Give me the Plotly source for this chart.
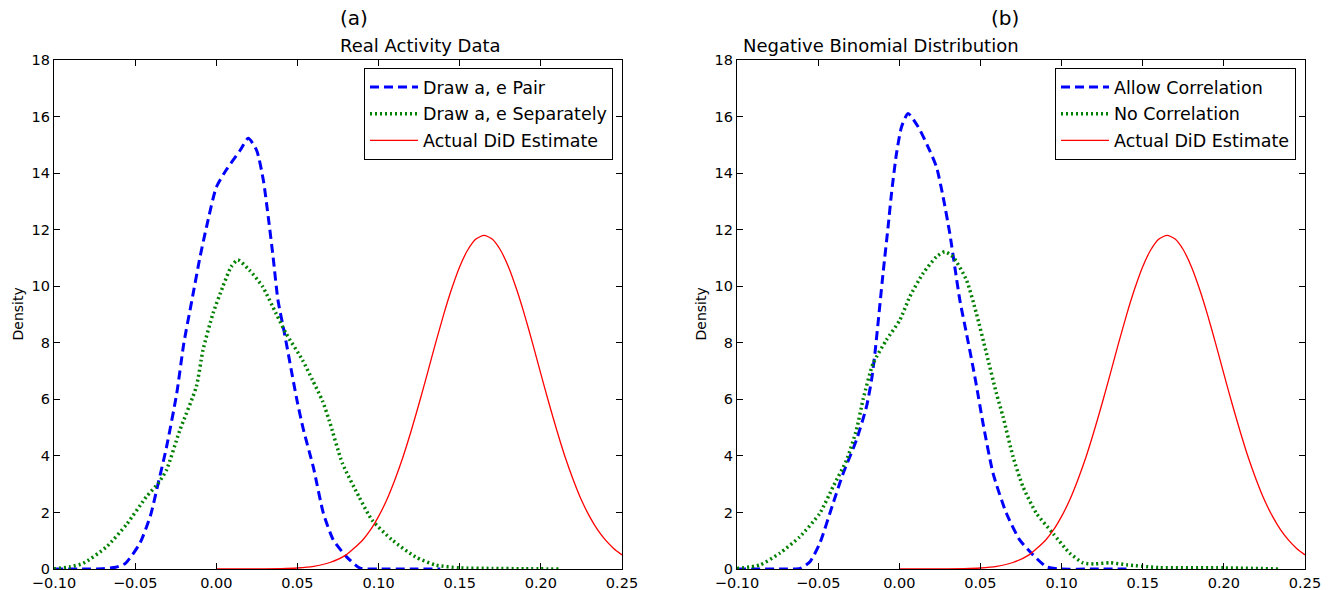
import plotly.graph_objects as go
from plotly.subplots import make_subplots

# ---------------- data ----------------
# Panel (a): Real Activity Data
a_pair_x = [-0.10, -0.08, -0.07, -0.062, -0.056, -0.047, -0.0405, -0.0358, -0.0307, -0.0244, -0.020,
            -0.015, -0.010, -0.006, 0.000, 0.006, 0.0146, 0.0197, 0.0249, 0.029, 0.032, 0.035,
            0.038, 0.042, 0.0496, 0.0536, 0.0598, 0.066, 0.0721, 0.0803, 0.0886,
            0.10, 0.12, 0.138]
a_pair_y = [0.0, 0.0, 0.01, 0.06, 0.2, 0.92, 1.9, 3.03, 4.3, 6.2, 7.98,
            9.51, 11.04, 12.1, 13.5, 14.1, 14.8, 15.23, 14.8, 13.75, 12.46, 11.04,
            9.51, 8.34, 6.0, 4.95, 3.6, 1.97, 1.03, 0.43, 0.03,
            0.0, 0.0, 0.0]

a_sep_x = [-0.10, -0.09, -0.082, -0.0675, -0.055, -0.043, -0.0358, -0.0307, -0.0225, -0.0123,
           -0.0082, -0.002, 0.004, 0.0092, 0.0133, 0.0204, 0.0286, 0.0368, 0.043, 0.0531,
           0.0593, 0.0654, 0.0695, 0.0777, 0.0879, 0.096, 0.1083, 0.1227, 0.135, 0.15,
           0.17, 0.19, 0.211]
a_sep_y = [0.0, 0.08, 0.2, 0.79, 1.6, 2.56, 3.03, 3.5, 4.9, 6.45,
           7.74, 9.04, 9.98, 10.69, 10.93, 10.57, 9.98, 9.04, 8.33, 7.39,
           6.68, 5.95, 5.27, 3.74, 2.56, 1.73, 1.03, 0.43, 0.14, 0.04,
           0.02, 0.01, 0.0]

# Panel (b): Negative Binomial Distribution
b_corr_x = [-0.10, -0.07, -0.061, -0.055, -0.049, -0.0408, -0.0346, -0.0264, -0.0202, -0.0171,
            -0.015, -0.010, -0.0069, -0.0048, -0.0017, 0.0014, 0.0054, 0.0116, 0.0177, 0.0229,
            0.027, 0.0311, 0.0342, 0.0373, 0.0414, 0.0454, 0.0475, 0.0516, 0.0578, 0.066,
            0.0742, 0.0824, 0.0906, 0.099, 0.12, 0.14]
b_corr_y = [0.0, 0.0, 0.02, 0.26, 0.91, 2.32, 3.38, 4.56, 5.74, 6.68,
            7.63, 10.46, 12.1, 13.28, 14.7, 15.64, 16.11, 15.64, 14.93, 14.22,
            13.16, 11.87, 10.69, 9.51, 8.33, 7.15, 6.5, 5.15, 3.38, 1.97,
            1.03, 0.5, 0.08, 0.0, 0.0, 0.0]

b_nocorr_x = [-0.10, -0.086, -0.0736, -0.0613, -0.049, -0.0408, -0.0325, -0.0264, -0.0223, -0.0161,
              -0.0079, 0.0003, 0.0065, 0.0147, 0.0229, 0.028, 0.0331, 0.0414, 0.0475, 0.0537,
              0.0599, 0.0639, 0.0701, 0.0762, 0.0845, 0.0947, 0.105, 0.1132, 0.12, 0.13,
              0.14, 0.16, 0.20, 0.235]
b_nocorr_y = [0.02, 0.14, 0.56, 1.14, 1.97, 2.91, 3.85, 4.92, 6.0, 7.27,
              8.1, 8.8, 9.63, 10.46, 11.04, 11.22, 11.04, 10.22, 9.04, 7.63,
              6.2, 5.39, 3.97, 2.91, 1.97, 1.26, 0.56, 0.22, 0.18, 0.22,
              0.15, 0.05, 0.04, 0.0]

# Actual DiD estimate (same in both panels)
did_x = [0.00, 0.02, 0.04, 0.05, 0.06, 0.07, 0.08, 0.09, 0.095, 0.10, 0.105, 0.11, 0.115,
         0.12, 0.125, 0.13, 0.135, 0.14, 0.145, 0.15, 0.155, 0.16, 0.165, 0.17, 0.175,
         0.18, 0.185, 0.19, 0.195, 0.20, 0.205, 0.21, 0.215, 0.22, 0.225, 0.23, 0.235,
         0.24, 0.245, 0.25]
did_y = [0.0, 0.001, 0.013, 0.036, 0.094, 0.23, 0.50, 1.01, 1.38, 1.86, 2.44, 3.15, 3.95,
         4.87, 5.86, 6.90, 7.96, 8.98, 9.90, 10.69, 11.29, 11.67, 11.8, 11.67, 11.29,
         10.69, 9.90, 8.98, 7.96, 6.90, 5.86, 4.87, 3.95, 3.15, 2.44, 1.86, 1.38,
         1.01, 0.72, 0.50]

panel_labels = ["(a)", "(b)"]
panel_titles = ["Real Activity Data", "Negative Binomial Distribution"]
legend_names_a = ["Draw a, e Pair", "Draw a, e Separately", "Actual DiD Estimate"]
legend_names_b = ["Allow Correlation", "No Correlation", "Actual DiD Estimate"]
x_ticks = [-0.10, -0.05, 0.00, 0.05, 0.10, 0.15, 0.20, 0.25]
y_ticks = [0, 2, 4, 6, 8, 10, 12, 14, 16, 18]

# ---------------- figure ----------------
FONT = "DejaVu Sans"
BLUE, GREEN, RED = "#0000ff", "#008000", "#ff0000"

fig = make_subplots(rows=1, cols=2, horizontal_spacing=0.092)

def add_panel(col, x1, y1, x2, y2, names, legend, tag):
    fig.add_trace(go.Scatter(x=x1, y=y1, mode="lines", name=names[0], legend=legend,
                             legendgroup=tag + "1",
                             line=dict(color=BLUE, width=3, dash="9px,5px", shape="spline", smoothing=0.6)),
                  row=1, col=col)
    fig.add_trace(go.Scatter(x=x2, y=y2, mode="lines", name=names[1], legend=legend,
                             legendgroup=tag + "2",
                             line=dict(color=GREEN, width=3.5, dash="2px,3px", shape="spline", smoothing=0.6)),
                  row=1, col=col)
    fig.add_trace(go.Scatter(x=did_x, y=did_y, mode="lines", name=names[2], legend=legend,
                             legendgroup=tag + "3",
                             line=dict(color=RED, width=1.3, shape="spline", smoothing=0.6)),
                  row=1, col=col)

add_panel(1, a_pair_x, a_pair_y, a_sep_x, a_sep_y, legend_names_a, "legend", "a")
add_panel(2, b_corr_x, b_corr_y, b_nocorr_x, b_nocorr_y, legend_names_b, "legend2", "b")

axis_common = dict(showline=True, linecolor="black", linewidth=1.2, mirror="ticks",
                   ticks="inside", ticklen=6, tickcolor="black", showgrid=False, zeroline=False,
                   automargin=False,
                   tickfont=dict(family=FONT, size=14.5, color="black"))
for c in (1, 2):
    fig.update_xaxes(range=[-0.10, 0.25], tickvals=x_ticks, tickformat=".2f", row=1, col=c, **axis_common)
    fig.update_yaxes(range=[0, 18], tickvals=y_ticks, row=1, col=c, **axis_common)

L, R, T, B = 54, 29, 60, 21
W, H = 1334, 590
pw = W - L - R
d1 = (622 - L) / pw
d2 = (737 - L) / pw
fig.update_xaxes(domain=[0, d1], row=1, col=1)
fig.update_xaxes(domain=[d2, 1], row=1, col=2)

ph = H - T - B
centers = [d1 / 2, (d2 + 1) / 2]
for i in range(2):
    fig.add_annotation(x=centers[i], y=1 + (T - 18) / ph, xref="paper", yref="paper",
                       text=panel_labels[i], showarrow=False, yanchor="middle",
                       font=dict(family=FONT, size=20, color="black"))
    fig.add_annotation(x=centers[i], y=1 + (T - 46) / ph, xref="paper", yref="paper",
                       text=panel_titles[i], showarrow=False, yanchor="middle",
                       font=dict(family=FONT, size=18, color="black"))
ylab_x = [(17 - L) / pw, (700 - L) / pw]
for i in range(2):
    fig.add_annotation(x=ylab_x[i], y=0.5, xref="paper", yref="paper", text="Density",
                       textangle=-90, showarrow=False, xanchor="center", yanchor="middle",
                       font=dict(family=FONT, size=14, color="black"))

legend_style = dict(bgcolor="white", bordercolor="black", borderwidth=1,
                    font=dict(family=FONT, size=17.5, color="black"),
                    xanchor="right", yanchor="top", yref="paper", xref="paper",
                    tracegroupgap=1, itemwidth=48)
fig.update_layout(
    width=W, height=H,
    margin=dict(l=L, r=R, t=T, b=B, autoexpand=False),
    paper_bgcolor="white", plot_bgcolor="white",
    font=dict(family=FONT, color="black"),
    legend=dict(x=(613 - L) / pw, y=1 - (68 - T) / ph, **legend_style),
    legend2=dict(x=(1296 - L) / pw, y=1 - (68 - T) / ph, **legend_style),
    showlegend=True,
)

fig.write_html("out.html", config={"displayModeBar": False},
               post_script="document.body.style.margin='0px';")
